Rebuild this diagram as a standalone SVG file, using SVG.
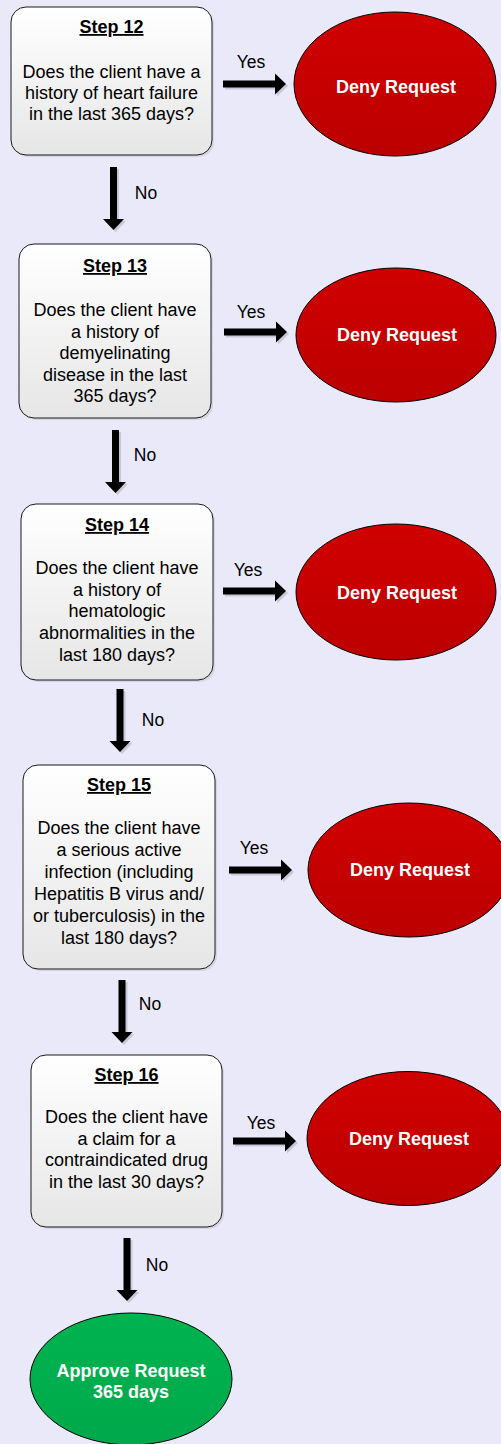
<svg xmlns="http://www.w3.org/2000/svg" xmlns:xlink="http://www.w3.org/1999/xlink" width="501" height="1444" viewBox="0 0 501 1444">
<style>
.box{fill:url(#boxg);stroke:#1a1a1a;stroke-width:1}
.shadow{fill:#c8c8d8;opacity:0.6}
.step{font-family:"Liberation Sans",Arial,sans-serif;font-size:18px;font-weight:bold;text-decoration:underline;text-anchor:middle;fill:#000}
.q{font-family:"Liberation Sans",Arial,sans-serif;font-size:18px;text-anchor:middle;fill:#000}
.lbl{font-family:"Liberation Sans",Arial,sans-serif;font-size:17.5px;text-anchor:middle;fill:#000}
.deny{fill:url(#redg);stroke:#000;stroke-width:1}
.approve{fill:url(#greeng);stroke:#000;stroke-width:1}
.out{font-family:"Liberation Sans",Arial,sans-serif;font-size:18px;font-weight:bold;text-anchor:middle;fill:#fff}
.arr{fill:#000}
.arrsh{fill:#b8b8c8;opacity:0.7}
</style>
<defs>
<linearGradient id="boxg" x1="0" y1="0" x2="0" y2="1">
<stop offset="0" stop-color="#ffffff"/>
<stop offset="1" stop-color="#e6e6e6"/>
</linearGradient>
<linearGradient id="redg" x1="0" y1="0" x2="0" y2="1">
<stop offset="0" stop-color="#d00000"/>
<stop offset="1" stop-color="#bb0000"/>
</linearGradient>
<linearGradient id="greeng" x1="0" y1="0" x2="0" y2="1">
<stop offset="0" stop-color="#00b450"/>
<stop offset="1" stop-color="#00a84a"/>
</linearGradient>
<path id="arrow" d="M-63,-3.5 H-11 V-10.5 L0,0 L-11,10.5 V3.5 H-63 Z"/>
</defs>
<rect width="501" height="1444" fill="#e9e9fa"/>

<g id="connectors">
<use xlink:href="#arrow" class="arrsh" transform="translate(288,86)"/>
<use xlink:href="#arrow" class="arr" transform="translate(286,84)"/>
<text class="lbl" x="251" y="68">Yes</text>
<use xlink:href="#arrow" class="arrsh" transform="translate(115.5,232) rotate(90)"/>
<use xlink:href="#arrow" class="arr" transform="translate(113.5,230) rotate(90)"/>
<text class="lbl" x="146" y="199">No</text>

<use xlink:href="#arrow" class="arrsh" transform="translate(289,334)"/>
<use xlink:href="#arrow" class="arr" transform="translate(287,332)"/>
<text class="lbl" x="251" y="318">Yes</text>
<use xlink:href="#arrow" class="arrsh" transform="translate(117.5,495) rotate(90)"/>
<use xlink:href="#arrow" class="arr" transform="translate(115.5,493) rotate(90)"/>
<text class="lbl" x="145" y="461">No</text>

<use xlink:href="#arrow" class="arrsh" transform="translate(288,593)"/>
<use xlink:href="#arrow" class="arr" transform="translate(286,591)"/>
<text class="lbl" x="248" y="576">Yes</text>
<use xlink:href="#arrow" class="arrsh" transform="translate(122,754) rotate(90)"/>
<use xlink:href="#arrow" class="arr" transform="translate(120,752) rotate(90)"/>
<text class="lbl" x="153" y="726">No</text>

<use xlink:href="#arrow" class="arrsh" transform="translate(294,872)"/>
<use xlink:href="#arrow" class="arr" transform="translate(292,870)"/>
<text class="lbl" x="254" y="854">Yes</text>
<use xlink:href="#arrow" class="arrsh" transform="translate(124,1045) rotate(90)"/>
<use xlink:href="#arrow" class="arr" transform="translate(122,1043) rotate(90)"/>
<text class="lbl" x="150" y="1010">No</text>

<use xlink:href="#arrow" class="arrsh" transform="translate(298,1143)"/>
<use xlink:href="#arrow" class="arr" transform="translate(296,1141)"/>
<text class="lbl" x="261" y="1129">Yes</text>
<use xlink:href="#arrow" class="arrsh" transform="translate(129,1303) rotate(90)"/>
<use xlink:href="#arrow" class="arr" transform="translate(127,1301) rotate(90)"/>
<text class="lbl" x="157" y="1271">No</text>
</g>

<g id="step12">
<rect class="shadow" x="13" y="9" width="201" height="148" rx="15"/>
<rect class="box" x="11" y="7" width="201" height="148" rx="15"/>
<text class="step" x="111.5" y="33">Step 12</text>
<text class="q" x="111.5" y="78">Does the client have a</text>
<text class="q" x="111.5" y="99">history of heart failure</text>
<text class="q" x="111.5" y="120">in the last 365 days?</text>
</g>
<g id="deny12">
<ellipse class="deny" cx="395" cy="84" rx="101" ry="72"/>
<text class="out" x="396" y="93">Deny Request</text>
</g>

<g id="step13">
<rect class="shadow" x="21" y="246" width="192" height="174" rx="15"/>
<rect class="box" x="19" y="244" width="192" height="174" rx="15"/>
<text class="step" x="115" y="272">Step 13</text>
<text class="q" x="115" y="316">Does the client have</text>
<text class="q" x="115" y="337.5">a history of</text>
<text class="q" x="115" y="359">demyelinating</text>
<text class="q" x="115" y="380.5">disease in the last</text>
<text class="q" x="115" y="402">365 days?</text>
</g>
<g id="deny13">
<ellipse class="deny" cx="396" cy="335" rx="100" ry="67"/>
<text class="out" x="397" y="341">Deny Request</text>
</g>

<g id="step14">
<rect class="shadow" x="23" y="506" width="192" height="176" rx="15"/>
<rect class="box" x="21" y="504" width="192" height="176" rx="15"/>
<text class="step" x="117" y="531">Step 14</text>
<text class="q" x="117" y="574">Does the client have</text>
<text class="q" x="117" y="595.7">a history of</text>
<text class="q" x="117" y="617.4">hematologic</text>
<text class="q" x="117" y="639.1">abnormalities in the</text>
<text class="q" x="117" y="660.8">last 180 days?</text>
</g>
<g id="deny14">
<ellipse class="deny" cx="396" cy="592" rx="100" ry="68"/>
<text class="out" x="397" y="599">Deny Request</text>
</g>

<g id="step15">
<rect class="shadow" x="25" y="767" width="192" height="204" rx="15"/>
<rect class="box" x="23" y="765" width="192" height="204" rx="15"/>
<text class="step" x="119" y="791">Step 15</text>
<text class="q" x="119" y="834">Does the client have</text>
<text class="q" x="119" y="856">a serious active</text>
<text class="q" x="119" y="878">infection (including</text>
<text class="q" x="119" y="900">Hepatitis B virus and/</text>
<text class="q" x="119" y="922">or tuberculosis) in the</text>
<text class="q" x="119" y="944">last 180 days?</text>
</g>
<g id="deny15">
<ellipse class="deny" cx="409" cy="870" rx="101" ry="67"/>
<text class="out" x="410" y="876">Deny Request</text>
</g>

<g id="step16">
<rect class="shadow" x="33" y="1057" width="191" height="172" rx="15"/>
<rect class="box" x="31" y="1055" width="191" height="172" rx="15"/>
<text class="step" x="126.5" y="1081">Step 16</text>
<text class="q" x="126.5" y="1123">Does the client have</text>
<text class="q" x="126.5" y="1144.7">a claim for a</text>
<text class="q" x="126.5" y="1166.4">contraindicated drug</text>
<text class="q" x="126.5" y="1188">in the last 30 days?</text>
</g>
<g id="deny16">
<ellipse class="deny" cx="408" cy="1138.5" rx="101" ry="67"/>
<text class="out" x="409" y="1145">Deny Request</text>
</g>

<g id="approve">
<ellipse class="approve" cx="131" cy="1379" rx="101" ry="66"/>
<text class="out" x="131" y="1377">Approve Request</text>
<text class="out" x="131" y="1398">365 days</text>
</g>
</svg>
